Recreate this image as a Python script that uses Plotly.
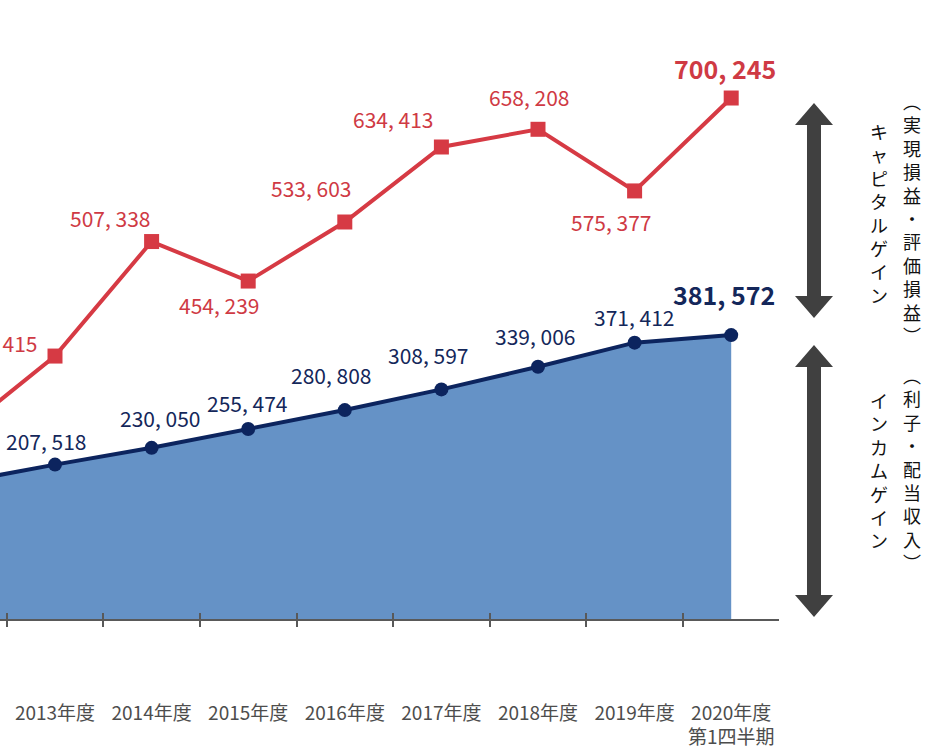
import plotly.graph_objects as go

# ---- data ----
categories = ["2012年度", "2013年度", "2014年度", "2015年度", "2016年度",
              "2017年度", "2018年度", "2019年度", "2020年度<br>第1四半期"]
capital_gain = [248700, 353415, 507338, 454239, 533603, 634413, 658208, 575377, 700245]
income_gain = [183300, 207518, 230050, 255474, 280808, 308597, 339006, 371412, 381572]

# label offsets (pixels) relative to each point; None = no label shown
red_label_shift = [None, (-58, 13), (-42, 24), (-29, -24), (-34, 34), (-48, 28), (-9, 32), (-24, -31), (-6, 30)]
blue_label_shift = [None, (-9, 24), (8, 30), (-1, 26), (-14, 35), (-13, 34), (-3, 31), (-1, 26), (-7, 41)]

# side captions: (text, column centre x px, column centre y px)
side_texts = [
    ("キャピタルゲイン", 879, 213.5),
    ("︵実現損益・評価損益︶", 912, 217.5),
    ("インカムゲイン", 879, 469.5),
    ("︵利子・配当収入︶", 912, 468.5),
]

RED = "#D63A44"
RED_TXT = "#CF3A44"
NAVY = "#0C245E"
NAVY_TXT = "#14275A"
FILL = "#6592C6"
ARROW = "#404040"
AXIS_C = "#595959"
NUMFONT = "Noto Sans CJK JP"

W, H = 948, 756
PLOT_W = 779
AXIS_Y = 619

fig = go.Figure()
fig.add_trace(go.Scatter(
    x=categories, y=income_gain, mode="lines+markers",
    fill="tozeroy", fillcolor=FILL,
    line=dict(color=NAVY, width=4),
    marker=dict(symbol="circle", size=14, color=NAVY),
    hoverinfo="skip", showlegend=False, cliponaxis=False))
fig.add_trace(go.Scatter(
    x=categories, y=capital_gain, mode="lines+markers",
    line=dict(color=RED, width=4),
    marker=dict(symbol="square", size=15, color=RED),
    hoverinfo="skip", showlegend=False, cliponaxis=False))
# helper trace for the overlay axis that draws the upward half of the ticks
fig.add_trace(go.Scatter(
    x=categories, y=[None] * len(categories), xaxis="x2", mode="markers",
    hoverinfo="skip", showlegend=False))

def fmt(v):
    return f"{v:,}".replace(",", ", ")

annotations = []
n = len(categories)
for i in range(n):
    last = (i == n - 1)
    for vals, shifts, col in ((capital_gain, red_label_shift, RED_TXT),
                              (income_gain, blue_label_shift, NAVY_TXT)):
        if shifts[i] is None:
            continue
        dx, dy = shifts[i]
        annotations.append(dict(
            x=i, y=vals[i], xref="x", yref="y", text=fmt(vals[i]),
            showarrow=False, xshift=dx, yshift=dy, xanchor="center", yanchor="middle",
            font=dict(family=NUMFONT, size=25 if last else 21, color=col,
                      weight="bold" if last else "normal")))

def px2paper(px, py):
    return px / PLOT_W, (AXIS_Y - py) / AXIS_Y

for s, px, py in side_texts:
    xp, yp = px2paper(px, py)
    annotations.append(dict(
        x=xp, y=yp, xref="paper", yref="paper", text="<br>".join(s), showarrow=False,
        xanchor="center", yanchor="middle", align="center",
        font=dict(family="Noto Sans CJK JP", size=18, color="#111111")))

# double-headed arrows
def arrow_path(cx, top, bottom, shaft=7, head=19, head_h=22):
    pts = [
        (cx, top), (cx + head, top + head_h), (cx + shaft, top + head_h),
        (cx + shaft, bottom - head_h), (cx + head, bottom - head_h), (cx, bottom),
        (cx - head, bottom - head_h), (cx - shaft, bottom - head_h),
        (cx - shaft, top + head_h), (cx - head, top + head_h),
    ]
    conv = [px2paper(x, y) for x, y in pts]
    return "M " + " L ".join(f"{x:.5f},{y:.5f}" for x, y in conv) + " Z"

shapes = [
    dict(type="path", xref="paper", yref="paper", path=arrow_path(814, 103, 318),
         fillcolor=ARROW, line=dict(width=0)),
    dict(type="path", xref="paper", yref="paper", path=arrow_path(814, 345, 617),
         fillcolor=ARROW, line=dict(width=0)),
]

px_per_cat = 96.6
r0 = 1 - 55 / px_per_cat
r1 = r0 + PLOT_W / px_per_cat

common_x = dict(type="category", categoryorder="array", categoryarray=categories,
                range=[r0, r1], showgrid=False, zeroline=False, tickson="boundaries",
                tickwidth=1.5, tickcolor=AXIS_C, fixedrange=True)

fig.update_layout(
    width=W, height=H,
    margin=dict(l=0, r=W - PLOT_W, t=0, b=H - AXIS_Y, pad=0),
    plot_bgcolor="white", paper_bgcolor="white",
    annotations=annotations, shapes=shapes, showlegend=False,
    xaxis=dict(**common_x, showline=True, linecolor=AXIS_C, linewidth=1.5,
               ticks="outside", ticklen=6, ticklabelstandoff=76,
               tickfont=dict(family=NUMFONT, size=19, color="#4D4D4D")),
    xaxis2=dict(**common_x, overlaying="x", anchor="y", side="bottom",
                ticks="inside", ticklen=6, showline=False, showticklabels=False),
    yaxis=dict(range=[0, AXIS_Y / 0.000744], visible=False, showgrid=False,
               zeroline=False, fixedrange=True),
)

fig.write_html("out.html")
